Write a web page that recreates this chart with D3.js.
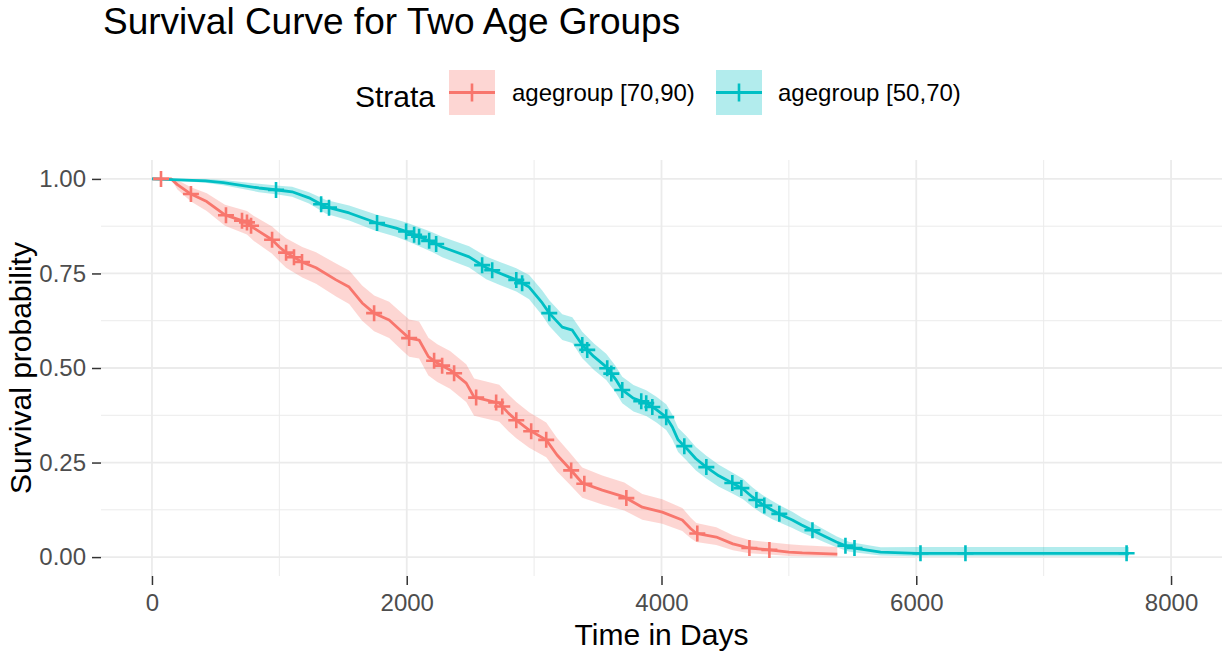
<!DOCTYPE html>
<html>
<head>
<meta charset="utf-8">
<script src="https://cdn.jsdelivr.net/npm/d3@7"></script>
<style>
  body { margin: 0; background: #fff; }
  text { font-family: "Liberation Sans", Arial, sans-serif; }
</style>
</head>
<body>
<div id="chart"></div>
<script>
// strata, in legend order
const strata = ["agegroup [70,90)", "agegroup [50,70)"];
const strataColors = ["#F8766D", "#00BFC4"];

// agegroup [70,90) - KM estimate
const timeOld = [0, 150, 200, 306, 430, 573, 746, 800, 943, 1000, 1053, 1180, 1288, 1445, 1548, 1650, 1744, 1862, 1950, 2019,
  2097, 2170, 2240, 2340, 2467, 2529, 2726, 2800, 2860, 2961, 3095, 3180, 3276, 3378, 3535, 3708, 3849, 4006, 4163, 4230,
  4273, 4430, 4560, 4690, 4847, 5000, 5106, 5380];
const survOld = [1, 1, .985, .96, .94, .905, .885, .87, .839, .82, .805, .78, .765, .733, .714, .672, .645, .627, .60, .579,
  .574, .53, .513, .495, .46, .423, .407, .38, .362, .336, .31, .27, .235, .196, .177, .159, .132, .119, .098, .075,
  .063, .053, .035, .024, .019, .013, .011, .008];
const lowerOld = [1, 1, .972, .94, .915, .876, .853, .836, .802, .782, .765, .739, .723, .689, .669, .625, .597, .579, .551, .53,
  .525, .48, .463, .445, .41, .374, .358, .332, .314, .289, .264, .226, .193, .157, .139, .123, .099, .088, .069, .05,
  .04, .032, .018, .01, .007, .003, .002, .001];
const upperOld = [1, 1, .997, .978, .962, .932, .915, .902, .874, .857, .843, .82, .806, .776, .758, .718, .692, .675, .649, .628,
  .623, .58, .563, .545, .51, .472, .456, .429, .41, .383, .356, .315, .278, .237, .216, .197, .167, .153, .13, .104,
  .09, .079, .058, .045, .039, .034, .031, .027];
const censorOld = [71, 306, 581, 707, 746, 778, 943, 1053, 1115, 1178, 1744, 2019, 2215, 2278, 2372, 2545, 2702, 2750, 2860,
  2977, 3095, 3291, 3394, 3724, 4281, 4690, 4847];

// agegroup [50,70)
const timeYoung = [0, 420, 560, 840, 1000, 1100, 1233, 1367, 1548, 1760, 1917, 2003, 2097, 2200, 2278, 2490, 2624, 2726, 2860, 2961,
  3064, 3119, 3221, 3300, 3378, 3470, 3566, 3640, 3692, 3780, 3880, 3960, 4037, 4085, 4130, 4195, 4270, 4352, 4450, 4556,
  4640, 4713, 4790, 4870, 4950, 5027, 5100, 5185, 5280, 5373, 5475, 5720, 6000, 7670];
const survYoung = [1, .995, .99, .976, .97, .966, .95, .926, .91, .884, .87, .86, .847, .833, .82, .794, .765, .751, .733, .714,
  .672, .645, .608, .60, .561, .53, .503, .47, .442, .42, .407, .39, .37, .344, .31, .288, .26, .238, .215, .196,
  .18, .159, .14, .124, .11, .098, .085, .071, .055, .04, .026, .013, .01, .01];
const lowerYoung = [1, .99, .983, .965, .958, .953, .935, .908, .89, .862, .847, .836, .822, .807, .793, .766, .735, .72, .702, .682,
  .639, .611, .574, .566, .526, .495, .468, .435, .407, .385, .373, .356, .336, .311, .278, .256, .229, .208, .186, .168,
  .153, .133, .115, .1, .088, .077, .065, .053, .039, .026, .014, .004, .002, .002];
const upperYoung = [1, 1, .997, .987, .982, .979, .965, .944, .93, .906, .893, .884, .872, .859, .847, .822, .795, .781, .764, .746,
  .705, .679, .642, .634, .596, .565, .538, .505, .477, .455, .441, .424, .404, .377, .342, .32, .291, .268, .244, .224,
  .207, .185, .165, .148, .133, .12, .105, .09, .072, .055, .04, .026, .027, .027];
const censorYoung = [974, 1328, 1390, 1767, 1995, 2058, 2097, 2176, 2231, 2592, 2671, 2860, 2906, 3119, 3378, 3417, 3574, 3606,
  3692, 3841, 3880, 3928, 4037, 4179, 4352, 4556, 4627, 4745, 4807, 4925, 5185, 5444, 5515, 6033, 6386, 7651];

const xTicks = [0, 2000, 4000, 6000, 8000];
const xMinor = [1000, 3000, 5000, 7000];
const yTicks = [0, 0.25, 0.5, 0.75, 1];
const yMinor = [0.125, 0.375, 0.625, 0.875];

const width = 1225, height = 656;
const panel = {left: 101, right: 1222, top: 160, bottom: 576};

const svg = d3.select("#chart")
    .append("svg")
    .attr("width", width)
    .attr("height", height);

const x = d3.scaleLinear().domain([-400, 8400]).range([panel.left, panel.right]);
const y = d3.scaleLinear().domain([-0.05, 1.05]).range([panel.bottom, panel.top]);

// grid
const grid = svg.append("g");
grid.selectAll(".xminor").data(xMinor).enter().append("line")
    .attr("x1", d => x(d)).attr("x2", d => x(d))
    .attr("y1", panel.top).attr("y2", panel.bottom)
    .attr("stroke", "#EBEBEB").attr("stroke-width", 1);
grid.selectAll(".yminor").data(yMinor).enter().append("line")
    .attr("x1", panel.left).attr("x2", panel.right)
    .attr("y1", d => y(d)).attr("y2", d => y(d))
    .attr("stroke", "#EBEBEB").attr("stroke-width", 1);
grid.selectAll(".xmajor").data(xTicks).enter().append("line")
    .attr("x1", d => x(d)).attr("x2", d => x(d))
    .attr("y1", panel.top).attr("y2", panel.bottom)
    .attr("stroke", "#EBEBEB").attr("stroke-width", 1.8);
grid.selectAll(".ymajor").data(yTicks).enter().append("line")
    .attr("x1", panel.left).attr("x2", panel.right)
    .attr("y1", d => y(d)).attr("y2", d => y(d))
    .attr("stroke", "#EBEBEB").attr("stroke-width", 1.8);

// axes
const xAxis = svg.append("g")
    .attr("transform", `translate(0,${panel.bottom})`)
    .call(d3.axisBottom(x).tickValues(xTicks).tickSize(9).tickPadding(9).tickFormat(d3.format("d")));
const yAxis = svg.append("g")
    .attr("transform", `translate(${panel.left},0)`)
    .call(d3.axisLeft(y).tickValues(yTicks).tickSize(9).tickPadding(6).tickFormat(d3.format(".2f")));
[xAxis, yAxis].forEach(a => {
    a.select(".domain").remove();
    a.selectAll(".tick line").attr("stroke", "#333333").attr("stroke-width", 1.5);
    a.selectAll(".tick text")
        .attr("fill", "#4D4D4D")
        .style("font-size", "24px")
        .style("font-family", "Liberation Sans, Arial, sans-serif");
});

// curves: the estimate has many small steps, drawn here through the read points
const groups = [
    {name: strata[0], color: strataColors[0], time: timeOld, surv: survOld, lower: lowerOld, upper: upperOld, censor: censorOld},
    {name: strata[1], color: strataColors[1], time: timeYoung, surv: survYoung, lower: lowerYoung, upper: upperYoung, censor: censorYoung}
];
groups.forEach(g => {
    g.rows = g.time.map((t, i) => ({t: t, s: g.surv[i], lo: g.lower[i], hi: g.upper[i]}));
    const onCurve = d3.scaleLinear().domain(g.time).range(g.surv).clamp(true);
    g.marks = g.censor.map(c => ({t: c, s: onCurve(c)}));
});

const band = d3.area()
    .x(d => x(d.t))
    .y0(d => y(d.lo))
    .y1(d => y(d.hi));
const line = d3.line()
    .x(d => x(d.t))
    .y(d => y(d.s));

svg.append("g").selectAll("path").data(groups).enter().append("path")
    .attr("d", d => band(d.rows))
    .attr("fill", d => d.color)
    .attr("fill-opacity", 0.3);

svg.append("g").selectAll("path").data(groups).enter().append("path")
    .attr("d", d => line(d.rows))
    .attr("fill", "none")
    .attr("stroke", d => d.color)
    .attr("stroke-linejoin", "round")
    .attr("stroke-width", 2.8);

const plus = (sel, size) => sel
    .attr("d", `M${-size},0H${size}M0,${-size}V${size}`)
    .attr("fill", "none")
    .attr("stroke-width", 2.6);

groups.forEach(g => {
    svg.append("g").selectAll("path").data(g.marks).enter().append("path")
        .attr("transform", d => `translate(${x(d.t)},${y(d.s)})`)
        .call(plus, 8)
        .attr("stroke", g.color);
});

// titles
svg.append("text")
    .attr("x", 103).attr("y", 34)
    .style("font-size", "37px")
    .attr("fill", "#000")
    .text("Survival Curve for Two Age Groups");

svg.append("text")
    .attr("x", (panel.left + panel.right) / 2).attr("y", 645)
    .attr("text-anchor", "middle")
    .style("font-size", "30px")
    .attr("fill", "#000")
    .text("Time in Days");

svg.append("text")
    .attr("transform", `translate(31,${(panel.top + panel.bottom) / 2}) rotate(-90)`)
    .attr("text-anchor", "middle")
    .style("font-size", "30px")
    .attr("fill", "#000")
    .text("Survival probability");

// legend
const legend = svg.append("g");
legend.append("text")
    .attr("x", 355).attr("y", 107)
    .style("font-size", "30px")
    .attr("fill", "#000")
    .text("Strata");

const legendPos = [{box: 449, label: 512}, {box: 716, label: 778}];
const legendItems = legend.selectAll(".legend-item")
    .data(groups)
    .enter()
    .append("g")
    .attr("class", "legend-item")
    .attr("transform", (d, i) => `translate(${legendPos[i].box},70)`);

legendItems.append("rect")
    .attr("width", 46).attr("height", 45)
    .attr("fill", d => d.color)
    .attr("fill-opacity", 0.3);
legendItems.append("line")
    .attr("x1", 0).attr("x2", 46)
    .attr("y1", 22.5).attr("y2", 22.5)
    .attr("stroke", d => d.color)
    .attr("stroke-width", 2.8);
legendItems.append("path")
    .attr("transform", "translate(23,22.5)")
    .call(plus, 9)
    .attr("stroke", d => d.color);
legendItems.append("text")
    .attr("x", (d, i) => legendPos[i].label - legendPos[i].box)
    .attr("y", 31)
    .style("font-size", "24px")
    .attr("fill", "#000")
    .text(d => d.name);
</script>
</body>
</html>
